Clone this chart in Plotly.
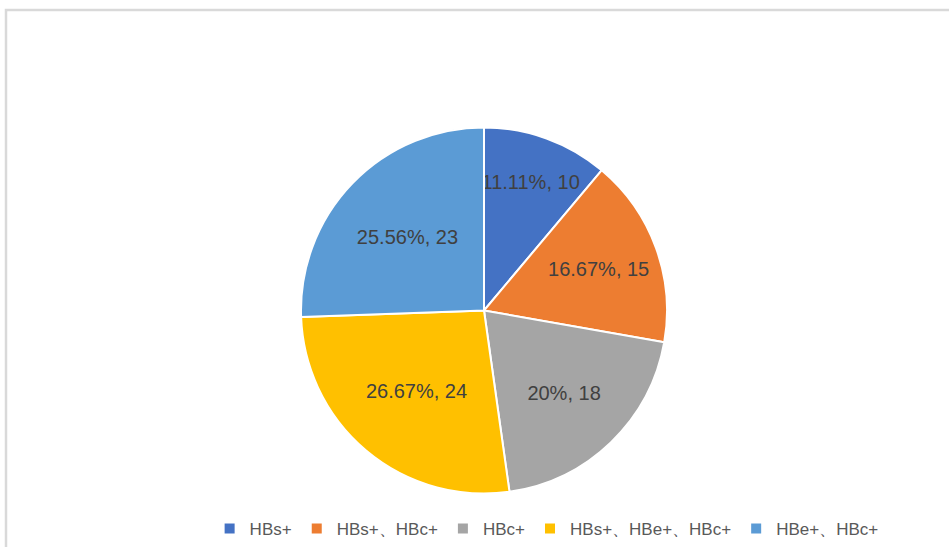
import plotly.graph_objects as go

categories = ["HBs+", "HBs+、HBc+", "HBc+", "HBs+、HBe+、HBc+", "HBe+、HBc+"]
values = [10, 15, 18, 24, 23]
pct_labels = ["11.11%", "16.67%", "20%", "26.67%", "25.56%"]
colors = ["#4472C4", "#ED7D31", "#A5A5A5", "#FFC000", "#5B9BD5"]

W, H = 949, 547
texts = [f"{p}, {v}" for p, v in zip(pct_labels, values)]

fig = go.Figure(go.Pie(
    labels=categories,
    values=values,
    text=texts,
    textinfo="text",
    textposition="inside",
    insidetextorientation="horizontal",
    sort=False,
    direction="clockwise",
    rotation=0,
    hoverinfo="skip",
    marker=dict(colors=colors, line=dict(color="white", width=2)),
    textfont=dict(size=20, color="#404040", family="Liberation Sans"),
    domain=dict(x=[301 / W, 667 / W], y=[(H - 494) / H, (H - 127) / H]),
))

fig.update_layout(
    width=W, height=H,
    margin=dict(l=0, r=0, t=0, b=0),
    paper_bgcolor="white",
    showlegend=True,
    legend=dict(orientation="h", x=0.576, xanchor="center", y=0.0, yanchor="bottom",
                font=dict(size=17, color="#595959", family="Liberation Sans"),
                itemwidth=30, traceorder="normal"),
    uniformtext=dict(minsize=20, mode="show"),
    shapes=[dict(type="rect", xref="paper", yref="paper",
                 x0=6 / W, x1=1.02, y0=-0.02, y1=1 - 10 / H,
                 line=dict(color="#D9D9D9", width=2.5))],
)

fig.write_html("out.html", config={"displayModeBar": False},
               post_script="document.body.style.margin='0';document.body.style.overflow='hidden';")
